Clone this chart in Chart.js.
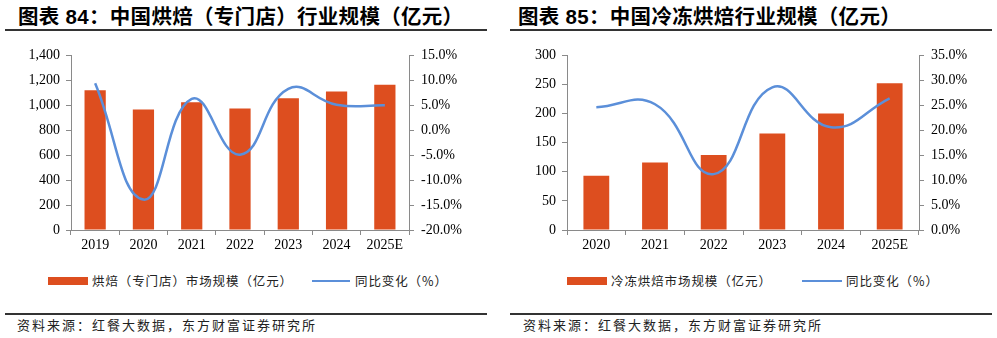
<!DOCTYPE html>
<html>
<head>
<meta charset="utf-8">
<script src="https://cdn.jsdelivr.net/npm/chart.js@4.4.0/dist/chart.umd.min.js"></script>
<style>
  body { margin: 0; background: #fff; width: 997px; height: 338px; position: relative; overflow: hidden; }
  .abs { position: absolute; white-space: nowrap; }
  .title { font-family: "Liberation Sans", "Noto Sans CJK SC", sans-serif; font-weight: bold; font-size: 20.5px; letter-spacing: 0.3px; color: #000; line-height: 34px; top: 0; }
  .rule { height: 1.5px; background: #333; }
  .leg { font-family: "Noto Sans CJK SC", sans-serif; font-size: 12.5px; letter-spacing: 0.9px; color: #222; line-height: 20px; top: 271px; }
  .box { background: #DD4E1F; height: 8px; top: 277px; }
  .ln { background: #5B8FD9; height: 2px; top: 280px; }
  .src { font-family: "Noto Sans CJK SC", sans-serif; font-size: 13px; letter-spacing: 2px; color: #222; line-height: 20px; top: 315px; }
  canvas { position: absolute; top: 40px; }
</style>
</head>
<body>
<div class="abs title" style="left:18px">图表 84：中国烘焙（专门店）行业规模（亿元）</div>
<div class="abs rule" style="left:5px;width:482px;top:29px"></div>
<div class="abs title" style="left:518px">图表 85：中国冷冻烘焙行业规模（亿元）</div>
<div class="abs rule" style="left:510px;width:482px;top:29px"></div>

<canvas id="bakeChart" width="497" height="215" style="left:0px"></canvas>
<canvas id="frozenChart" width="497" height="215" style="left:500px"></canvas>

<div class="abs box" style="left:48px;width:40px"></div>
<div class="abs leg" style="left:92px">烘焙（专门店）市场规模（亿元）</div>
<div class="abs ln" style="left:312px;width:38px"></div>
<div class="abs leg" style="left:355px">同比变化（%）</div>

<div class="abs box" style="left:567px;width:40px"></div>
<div class="abs leg" style="left:611px">冷冻烘焙市场规模（亿元）</div>
<div class="abs ln" style="left:802px;width:40px"></div>
<div class="abs leg" style="left:846px">同比变化（%）</div>

<div class="abs rule" style="left:5px;width:482px;top:313px"></div>
<div class="abs src" style="left:17px">资料来源：红餐大数据，东方财富证券研究所</div>
<div class="abs rule" style="left:510px;width:482px;top:313px"></div>
<div class="abs src" style="left:523px">资料来源：红餐大数据，东方财富证券研究所</div>

<script>
// chart 84: bakery (specialty store) market
const bakeYears = ['2019', '2020', '2021', '2022', '2023', '2024', '2025E'];
const bakeScale = [1120, 966, 1025, 975, 1056, 1110, 1165];
const bakeGrowth = [9.4, -13.9, 6.3, -4.9, 8.3, 5.1, 5.0];

// chart 85: frozen bakery market
const frozenYears = ['2020', '2021', '2022', '2023', '2024', '2025E'];
const frozenScale = [93, 116, 129, 166, 200, 252];
const frozenGrowth = [24.6, 25.2, 11.2, 28.6, 20.6, 26.4];

const axisColor = '#8a8a8a';
const tickFont = { family: '"Liberation Serif", "Times New Roman", serif', size: 14 };

function makeChart(id, labels, bars, growth, opts) {
  const ctx = document.getElementById(id).getContext('2d');
  return new Chart(ctx, {
    type: 'bar',
    data: {
      labels: labels,
      datasets: [{
        type: 'line',
        data: growth,
        yAxisID: 'y1',
        borderColor: '#5B8FD9',
        borderWidth: 2.5,
        pointRadius: 0,
        tension: 0.45,
        fill: false,
        order: 0
      }, {
        type: 'bar',
        data: bars,
        yAxisID: 'y',
        backgroundColor: '#DD4E1F',
        barPercentage: 0.44,
        categoryPercentage: 1,
        order: 1
      }]
    },
    options: {
      responsive: false,
      animation: false,
      layout: { padding: { top: 13, left: 0, right: 0, bottom: 0 } },
      plugins: { legend: { display: false }, tooltip: { enabled: false } },
      scales: {
        x: {
          afterFit: function(s) { s.height = 25; },
          grid: { drawOnChartArea: false, tickLength: 5, color: axisColor },
          border: { color: axisColor },
          ticks: { color: '#000', font: tickFont, padding: 2, maxRotation: 0 }
        },
        y: {
          position: 'left',
          min: opts.yMin, max: opts.yMax,
          afterFit: function(s) { s.width = opts.leftW; },
          grid: { drawOnChartArea: false, tickLength: 5, color: axisColor },
          border: { color: axisColor },
          ticks: {
            stepSize: opts.yStep, color: '#000', font: tickFont, padding: 6,
            callback: function(v) { return v.toLocaleString('en-US'); }
          }
        },
        y1: {
          position: 'right',
          min: opts.pMin, max: opts.pMax,
          afterFit: function(s) { s.width = opts.rightW; },
          grid: { drawOnChartArea: false, tickLength: 5, color: axisColor },
          border: { color: axisColor },
          ticks: {
            stepSize: 5, color: '#000', font: tickFont, padding: 7,
            callback: function(v) { return v.toFixed(1) + '%'; }
          }
        }
      }
    }
  });
}

makeChart('bakeChart', bakeYears, bakeScale, bakeGrowth,
  { yMin: 0, yMax: 1400, yStep: 200, pMin: -20, pMax: 15, leftW: 71, rightW: 88 });
makeChart('frozenChart', frozenYears, frozenScale, frozenGrowth,
  { yMin: 0, yMax: 300, yStep: 50, pMin: 0, pMax: 35, leftW: 67, rightW: 78 });
</script>
</body>
</html>
